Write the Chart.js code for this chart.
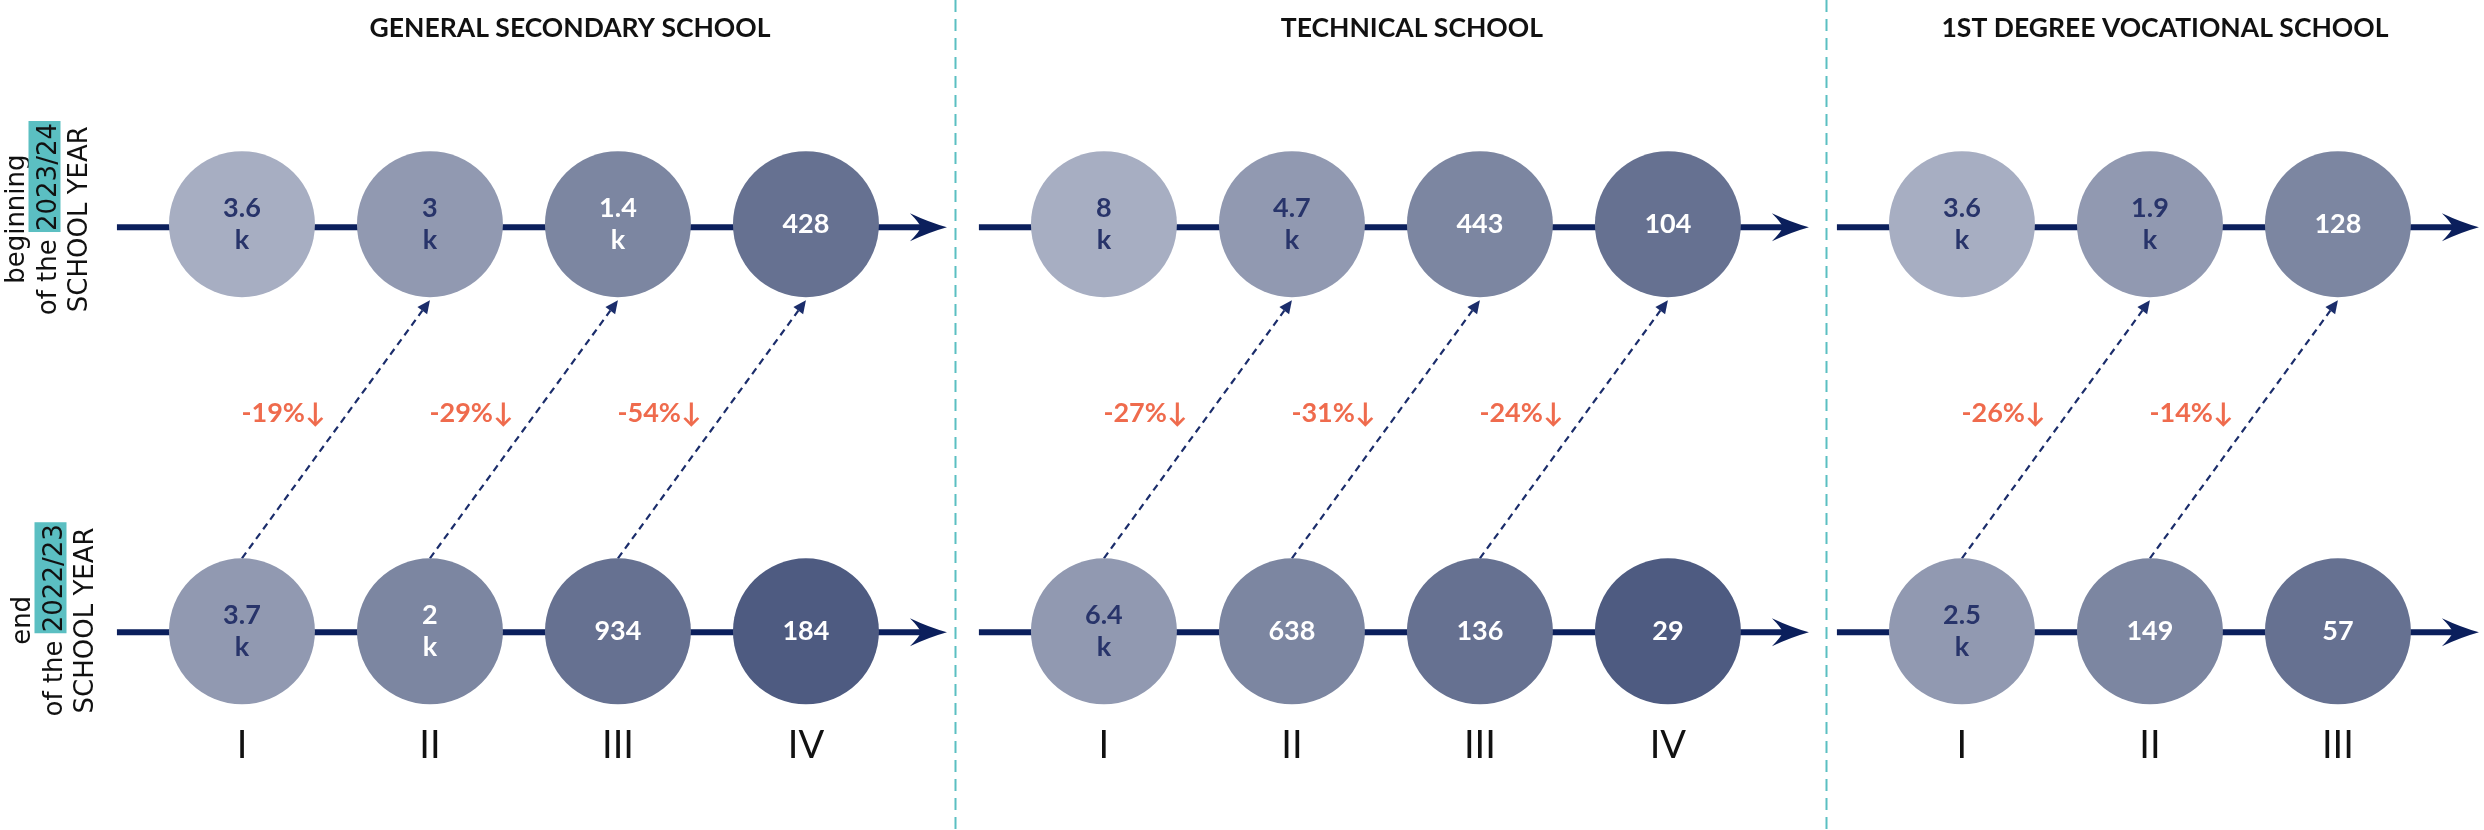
<!DOCTYPE html>
<html>
<head>
<meta charset="utf-8">
<title>Students by grade, end 2022/23 vs beginning 2023/24</title>
<script src="https://cdn.jsdelivr.net/npm/chart.js@4.4.1/dist/chart.umd.min.js"></script>
<style>
  body { margin: 0; background: #fff; }
  #wrap { width: 2484px; height: 830px; }
</style>
</head>
<body>
<div id="wrap"><canvas id="chart" width="2484" height="830"></canvas></div>
<script>
// --- data ---
const schools = ['GENERAL SECONDARY SCHOOL', 'TECHNICAL SCHOOL', '1ST DEGREE VOCATIONAL SCHOOL'];
const grades = [['I', 'II', 'III', 'IV'], ['I', 'II', 'III', 'IV'], ['I', 'II', 'III']];
// students at the beginning of the 2023/24 school year
const begin2324 = [[3600, 3000, 1400, 428], [8000, 4700, 443, 104], [3600, 1900, 128]];
// students at the end of the 2022/23 school year
const end2223 = [[3700, 2000, 934, 184], [6400, 638, 136, 29], [2500, 149, 57]];
// change from grade n (end 22/23) to grade n+1 (beginning 23/24), in %
const change = [[-19, -29, -54], [-27, -31, -24], [-26, -14]];
const rowTitles = [
  ['beginning', 'of the ', '2023/24', 'SCHOOL YEAR'],
  ['end', 'of the ', '2022/23', 'SCHOOL YEAR']
];

// --- layout (in grade steps on the x scale) ---
const panelStart = [0, 4.585, 9.149];
const dividerAt = [3.793, 8.426];
const titleAt = [1.745, 1.638, 1.08];
const R = 73;
const shades = ['#a7aec2', '#9199b1', '#7c86a1', '#667191', '#4e5b81'];
const navy = '#0b1f5c';
const teal = '#5bbfc2';
const coral = '#ef6b4d';

const topPts = [];
const bottomPts = [];
schools.forEach((s, p) => {
  grades[p].forEach((g, c) => {
    topPts.push({ x: panelStart[p] + c, y: 1, v: begin2324[p][c], shade: c });
    bottomPts.push({ x: panelStart[p] + c, y: 0, v: end2223[p][c], shade: c + 1 });
  });
});
const tickLabels = grades.flat();

function fmt(v) {
  if (v >= 1000) return [String(Math.round(v / 100) / 10), 'k'];
  return [String(v)];
}

function arrowHead(ctx, x1, py) {
  ctx.beginPath();
  ctx.moveTo(x1, py);
  ctx.quadraticCurveTo(x1 - 18, py - 5, x1 - 37, py - 14);
  ctx.quadraticCurveTo(x1 - 28, py - 5, x1 - 26, py);
  ctx.quadraticCurveTo(x1 - 28, py + 5, x1 - 37, py + 14);
  ctx.quadraticCurveTo(x1 - 18, py + 5, x1, py);
  ctx.closePath();
  ctx.fill();
}

const decor = {
  id: 'decor',
  beforeDatasetsDraw(chart) {
    const { ctx, scales: { x, y } } = chart;
    ctx.save();
    // timelines with arrows
    [1, 0].forEach(row => {
      const py = y.getPixelForValue(row) + (row === 1 ? 3 : 1);
      schools.forEach((s, p) => {
        const x0 = x.getPixelForValue(panelStart[p] - 0.665);
        const x1 = x.getPixelForValue(panelStart[p] + grades[p].length - 1 + 0.75);
        ctx.strokeStyle = navy;
        ctx.fillStyle = navy;
        ctx.lineWidth = 6;
        ctx.beginPath();
        ctx.moveTo(x0, py);
        ctx.lineTo(x1 - 24, py);
        ctx.stroke();
        arrowHead(ctx, x1, py);
      });
    });
    // dashed connectors: grade n end -> grade n+1 beginning
    ctx.strokeStyle = '#1b2d6b';
    ctx.fillStyle = '#1b2d6b';
    ctx.lineWidth = 2.2;
    change.forEach((list, p) => {
      list.forEach((d, c) => {
        const sx = x.getPixelForValue(panelStart[p] + c);
        const sy = y.getPixelForValue(0) - R;
        const ex = x.getPixelForValue(panelStart[p] + c + 1);
        const ey = y.getPixelForValue(1) + R + 3;
        const ang = Math.atan2(ey - sy, ex - sx);
        const L = 13;
        ctx.setLineDash([7, 5]);
        ctx.beginPath();
        ctx.moveTo(sx, sy);
        ctx.lineTo(ex - L * Math.cos(ang), ey - L * Math.sin(ang));
        ctx.stroke();
        ctx.setLineDash([]);
        ctx.beginPath();
        ctx.moveTo(ex, ey);
        ctx.lineTo(ex - L * Math.cos(ang) + 6 * Math.sin(ang), ey - L * Math.sin(ang) - 6 * Math.cos(ang));
        ctx.lineTo(ex - L * Math.cos(ang) - 6 * Math.sin(ang), ey - L * Math.sin(ang) + 6 * Math.cos(ang));
        ctx.closePath();
        ctx.fill();
      });
    });
    ctx.restore();
  },
  afterDatasetsDraw(chart) {
    const { ctx, scales: { x, y } } = chart;
    ctx.save();
    ctx.textAlign = 'center';
    ctx.textBaseline = 'middle';
    // values inside circles
    ctx.font = 'bold 27px Lato';
    [0, 1].forEach(i => {
      const meta = chart.getDatasetMeta(i);
      const pts = chart.data.datasets[i].data;
      meta.data.forEach((el, j) => {
        const lines = fmt(pts[j].v);
        ctx.fillStyle = pts[j].shade < 2 ? '#28346a' : '#ffffff';
        if (lines.length === 2) {
          ctx.fillText(lines[0], el.x, el.y - 16);
          ctx.fillText(lines[1], el.x, el.y + 16);
        } else {
          ctx.fillText(lines[0], el.x, el.y);
        }
      });
    });
    // percentage change labels
    ctx.font = 'bold 27px Lato';
    ctx.fillStyle = coral;
    change.forEach((list, p) => {
      list.forEach((d, c) => {
        ctx.fillText(d + '%\u2193', x.getPixelForValue(panelStart[p] + c + 0.22), y.getPixelForValue(0.535));
      });
    });
    ctx.restore();
  },
  afterDraw(chart) {
    const { ctx, scales: { x, y } } = chart;
    ctx.save();
    // panel dividers
    ctx.strokeStyle = teal;
    ctx.lineWidth = 2;
    ctx.setLineDash([12, 7]);
    dividerAt.forEach(v => {
      const px = Math.round(x.getPixelForValue(v)) + 0.5;
      ctx.beginPath();
      ctx.moveTo(px, 0);
      ctx.lineTo(px, chart.height);
      ctx.stroke();
    });
    ctx.setLineDash([]);
    // school titles
    ctx.fillStyle = '#111';
    ctx.font = 'bold 26.5px Lato';
    ctx.textAlign = 'center';
    ctx.textBaseline = 'middle';
    schools.forEach((s, p) => {
      ctx.fillText(s, x.getPixelForValue(panelStart[p] + titleAt[p]), 28);
    });
    // rotated row titles
    ctx.font = '26px "DejaVu Sans"';
    ctx.textBaseline = 'alphabetic';
    const rowVal = [1, 0];
    const shiftX = [0, 6];
    const shiftY = [-5, -11];
    rowTitles.forEach((t, r) => {
      const cy = y.getPixelForValue(rowVal[r]) + shiftY[r];
      const bases = [24, 55.5, 87].map(b => b + shiftX[r]);
      const put = (bx, fn) => {
        ctx.save();
        ctx.translate(bx, cy);
        ctx.rotate(-Math.PI / 2);
        fn();
        ctx.restore();
      };
      put(bases[0], () => { ctx.textAlign = 'center'; ctx.fillStyle = '#111'; ctx.fillText(t[0], 0, 0); });
      put(bases[1], () => {
        const w1 = ctx.measureText(t[1]).width;
        const w2 = ctx.measureText(t[2]).width;
        const start = -(w1 + w2) / 2;
        ctx.fillStyle = teal;
        ctx.fillRect(start + w1 - 1, -27, w2 + 3, 32);
        ctx.fillStyle = '#111';
        ctx.textAlign = 'left';
        ctx.fillText(t[1], start, 0);
        ctx.fillText(t[2], start + w1, 0);
      });
      put(bases[2], () => { ctx.textAlign = 'center'; ctx.fillStyle = '#111'; ctx.fillText(t[3], 0, 0); });
    });
    ctx.restore();
  }
};

const ctx = document.getElementById('chart').getContext('2d');
const chart = new Chart(ctx, {
  type: 'scatter',
  data: {
    datasets: [
      { label: 'beginning of 2023/24', data: topPts },
      { label: 'end of 2022/23', data: bottomPts }
    ]
  },
  options: {
    responsive: false,
    animation: false,
    events: [],
    layout: { autoPadding: false, padding: { top: 0, left: 0, right: 0, bottom: 38 } },
    datasets: {
      scatter: {
        clip: false,
        pointRadius: R,
        pointHoverRadius: R,
        borderWidth: 0,
        pointBorderWidth: 0,
        pointBackgroundColor: c => shades[c.raw ? c.raw.shade : 0]
      }
    },
    plugins: { legend: { display: false }, tooltip: { enabled: false } },
    scales: {
      x: {
        type: 'linear',
        min: -1.287,
        max: 11.926,
        afterBuildTicks: ax => { ax.ticks = topPts.map(p => ({ value: p.x })); },
        ticks: {
          autoSkip: false,
          maxRotation: 0,
          padding: 23,
          color: '#111',
          font: { family: 'Lato', size: 38, weight: 400 },
          callback: (v, i) => tickLabels[i]
        },
        grid: { display: false, drawTicks: false },
        border: { display: false }
      },
      y: { type: 'linear', display: false, min: -0.1695, max: 1.5504 }
    }
  },
  plugins: [decor]
});
</script>
</body>
</html>
